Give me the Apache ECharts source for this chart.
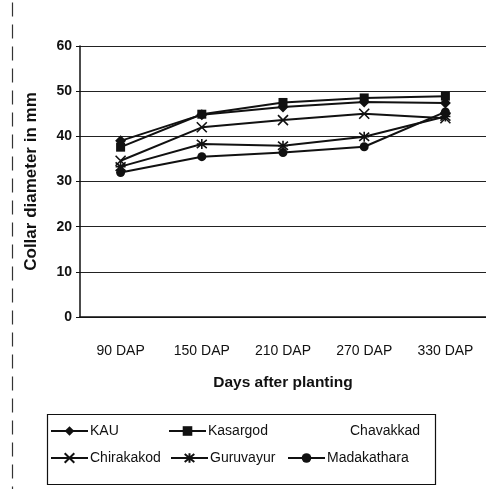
<!DOCTYPE html>
<html>
<head>
<meta charset="utf-8">
<script src="https://cdn.jsdelivr.net/npm/echarts@6/dist/echarts.min.js"></script>
<style>
  html, body { margin: 0; padding: 0; background: #fff; }
  #chart { width: 486px; height: 489px; }
</style>
</head>
<body>
<div id="chart"></div>
<script>
// Collar diameter (mm) of seedlings from six sources, by days after planting
const categories = ['90 DAP', '150 DAP', '210 DAP', '270 DAP', '330 DAP'];
const yTicks = [0, 10, 20, 30, 40, 50, 60];

const kau         = [39.0, 44.8, 46.5, 47.6, 47.4];
const kasargod    = [37.6, 44.9, 47.5, 48.5, 48.9];
const chavakkad   = [];
const chirakakod  = [34.6, 42.0, 43.6, 45.0, 44.0];
const guruvayur   = [33.3, 38.3, 37.9, 39.9, 44.4];
const madakathara = [32.0, 35.5, 36.4, 37.7, 45.4];

const FONT = '"Liberation Sans Narrow", "Liberation Sans", Arial, sans-serif';
const INK = '#111';

// open-stroke marker shapes
const crossPath = 'path://M0,0 L10,10 M10,0 L0,10';
const starPath = 'path://M0,0 L10,10 M10,0 L0,10 M5,-1 L5,11 M0,5 L10,5';

function lineSeries(name, data, symbol, size, stroked) {
  return {
    name: name,
    type: 'line',
    data: data,
    symbol: symbol,
    symbolSize: size,
    lineStyle: { color: INK, width: 2 },
    itemStyle: stroked
      ? { color: 'transparent', borderColor: INK, borderWidth: 1.6 }
      : { color: INK, borderColor: INK, borderWidth: 0 },
    emphasis: { disabled: true },
    animation: false
  };
}

const series = [
  lineSeries('KAU', kau, 'diamond', 11, false),
  lineSeries('Kasargod', kasargod, 'rect', 9, false),
  {
    name: 'Chavakkad', type: 'line', data: chavakkad, symbol: 'none',
    lineStyle: { opacity: 0 }, itemStyle: { color: 'transparent' }, animation: false
  },
  lineSeries('Chirakakod', chirakakod, crossPath, 10, true),
  lineSeries('Guruvayur', guruvayur, starPath, 10, true),
  lineSeries('Madakathara', madakathara, 'circle', 9, false)
];

// one legend per entry, laid out in two rows of three
const legendSpots = [
  ['KAU', 50, 424], ['Kasargod', 168, 424], ['Chavakkad', 310, 424],
  ['Chirakakod', 50, 451], ['Guruvayur', 170, 451], ['Madakathara', 287, 451]
];
const legends = legendSpots.map(function (s) {
  return {
    data: [s[0]],
    left: s[1], top: s[2],
    itemWidth: 37, itemHeight: 12, itemGap: 0,
    selectedMode: false,
    textStyle: { fontFamily: FONT, fontSize: 14, color: INK, padding: [0, 0, 0, -3] },
    padding: 0
  };
});

const chart = echarts.init(document.getElementById('chart'), null, { renderer: 'canvas' });
chart.setOption({
  backgroundColor: '#fff',
  animation: false,
  grid: { left: 80, right: 0, top: 46, bottom: 172 },
  xAxis: {
    type: 'category',
    data: categories,
    boundaryGap: true,
    axisLine: { lineStyle: { color: INK, width: 1.5 } },
    axisTick: { show: false },
    axisLabel: { fontFamily: FONT, fontSize: 14, color: INK, margin: 27 },
    name: 'Days after planting',
    nameLocation: 'middle',
    nameGap: 58,
    nameTextStyle: { fontFamily: FONT, fontSize: 15.5, fontWeight: 'bold', color: INK }
  },
  yAxis: {
    type: 'value',
    min: yTicks[0], max: yTicks[yTicks.length - 1], interval: 10,
    axisLine: { show: true, lineStyle: { color: INK, width: 1.5 } },
    axisTick: { show: true, length: 4, inside: false, lineStyle: { color: INK } },
    axisLabel: { fontFamily: FONT, fontSize: 14, fontWeight: 'bold', color: INK, margin: 8 },
    splitLine: { show: true, lineStyle: { color: '#222', width: 1.2 } },
    name: 'Collar diameter in mm',
    nameLocation: 'middle',
    nameGap: 40,
    nameTextStyle: { fontFamily: FONT, fontSize: 17, fontWeight: 'bold', color: INK }
  },
  legend: legends,
  series: series,
  graphic: [
    {
      type: 'rect', left: 45, top: 412, z: -1,
      shape: { width: 388, height: 70 },
      style: { fill: 'none', stroke: INK, lineWidth: 1.2 }
    },
    {
      type: 'line', left: 10, top: 0,
      shape: { x1: 0, y1: 0, x2: 0, y2: 489 },
      style: { stroke: '#333', lineWidth: 1.2, lineDash: [14, 8] }
    }
  ]
});
</script>
</body>
</html>
